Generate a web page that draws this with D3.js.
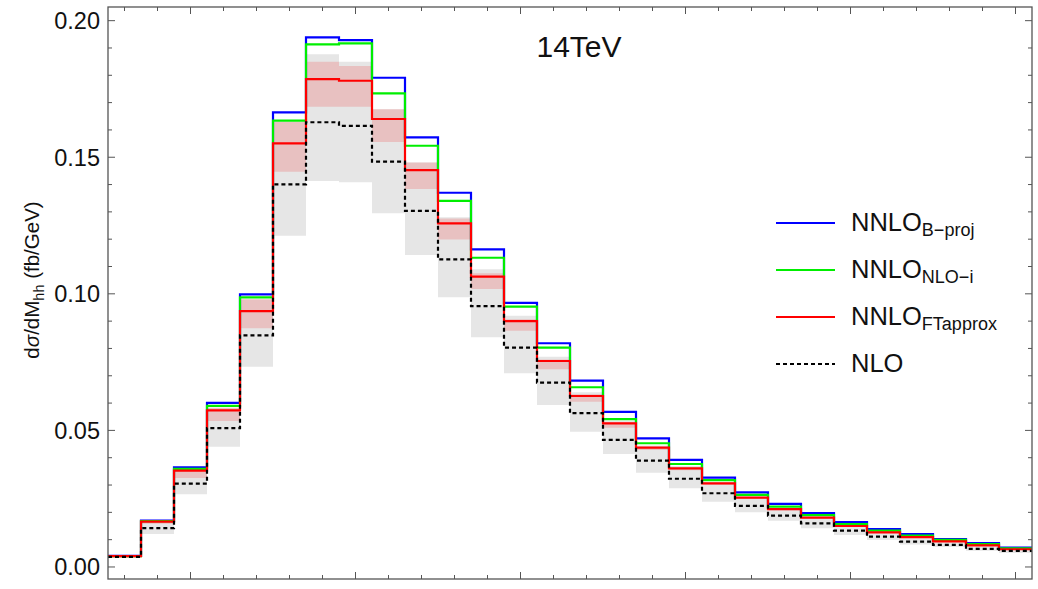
<!DOCTYPE html>
<html>
<head>
<meta charset="utf-8">
<script src="https://cdn.jsdelivr.net/npm/d3@7"></script>
<style>
  body { margin: 0; background: #fff; }
  text { font-family: "Liberation Sans", Arial, sans-serif; }
</style>
</head>
<body>
<div id="chart"></div>
<script>
// bin index (28 bins of M_hh), ticks sit at bin centres
var bins = d3.range(28);

// NNLO_B-proj
var nnloBproj = [0.0041, 0.0170, 0.0365, 0.0601, 0.0998, 0.1664, 0.1939, 0.1929, 0.1791, 0.1573,
  0.1370, 0.1163, 0.0967, 0.0819, 0.0682, 0.0568, 0.0471, 0.0392, 0.0327, 0.0273,
  0.0231, 0.0197, 0.0164, 0.0139, 0.0120, 0.0102, 0.0087, 0.0071];
// NNLO_NLO-i
var nnloNLOi = [0.0040, 0.0168, 0.0359, 0.0590, 0.0987, 0.1634, 0.1913, 0.1917, 0.1734, 0.1542,
  0.1340, 0.1132, 0.0953, 0.0803, 0.0658, 0.0541, 0.0453, 0.0377, 0.0318, 0.0264,
  0.0221, 0.0190, 0.0157, 0.0133, 0.0115, 0.0099, 0.0084, 0.0068];
// NNLO_FTapprox
var nnloFT = [0.0040, 0.0166, 0.0353, 0.0573, 0.0937, 0.1551, 0.1786, 0.1780, 0.1640, 0.1453,
  0.1258, 0.1063, 0.0900, 0.0754, 0.0626, 0.0526, 0.0437, 0.0361, 0.0306, 0.0254,
  0.0212, 0.0181, 0.0150, 0.0127, 0.0109, 0.0094, 0.0079, 0.0065];
// NLO
var nlo = [0.0037, 0.0142, 0.0305, 0.0508, 0.0848, 0.1401, 0.1628, 0.1615, 0.1484, 0.1304,
  0.1126, 0.0955, 0.0803, 0.0675, 0.0563, 0.0465, 0.0389, 0.0323, 0.0270, 0.0224,
  0.0188, 0.0160, 0.0133, 0.0111, 0.0093, 0.0081, 0.0066, 0.0059];

// NNLO_FTapprox scale band
var ftLow = [0.0038, 0.0158, 0.0326, 0.0534, 0.0874, 0.1447, 0.1685, 0.1685, 0.1556, 0.1384,
  0.1199, 0.1018, 0.0865, 0.0724, 0.0605, 0.0510, 0.0428, 0.0354, 0.0300, 0.0249,
  0.0208, 0.0177, 0.0147, 0.0124, 0.0106, 0.0092, 0.0077, 0.0063];
var ftHigh = [0.0042, 0.0170, 0.0358, 0.0583, 0.0980, 0.1630, 0.1850, 0.1834, 0.1676, 0.1481,
  0.1276, 0.1075, 0.0907, 0.0760, 0.0632, 0.0530, 0.0440, 0.0364, 0.0309, 0.0257,
  0.0215, 0.0184, 0.0152, 0.0129, 0.0111, 0.0096, 0.0081, 0.0067];
// NLO scale band
var nloLow = [0.0033, 0.0121, 0.0266, 0.0440, 0.0733, 0.1213, 0.1413, 0.1408, 0.1295, 0.1142,
  0.0987, 0.0841, 0.0709, 0.0593, 0.0495, 0.0414, 0.0345, 0.0288, 0.0239, 0.0200,
  0.0169, 0.0142, 0.0117, 0.0099, 0.0082, 0.0073, 0.0059, 0.0051];
var nloHigh = [0.0042, 0.0168, 0.0350, 0.0580, 0.0970, 0.1600, 0.1877, 0.1850, 0.1665, 0.1480,
  0.1280, 0.1090, 0.0920, 0.0770, 0.0640, 0.0535, 0.0445, 0.0370, 0.0310, 0.0257,
  0.0215, 0.0182, 0.0152, 0.0126, 0.0106, 0.0092, 0.0076, 0.0066];

var yTickValues = [0, 0.05, 0.10, 0.15, 0.20];
var yTickLabels = ["0.00", "0.05", "0.10", "0.15", "0.20"];

var series = [
  { name: "NNLO", sub: "B\u2212proj", values: nnloBproj, color: "#0000ff", dash: null },
  { name: "NNLO", sub: "NLO\u2212i", values: nnloNLOi, color: "#00ee00", dash: null },
  { name: "NNLO", sub: "FTapprox", values: nnloFT, color: "#ff0000", dash: null },
  { name: "NLO", sub: "", values: nlo, color: "#000000", dash: "4,3" }
];

// sizes
var width = 1038, height = 589;
var margin = { top: 7, right: 6, bottom: 10, left: 108 };
var plotW = width - margin.left - margin.right;
var plotH = height - margin.top - margin.bottom;

var svg = d3.select("#chart")
  .append("svg")
  .attr("width", width)
  .attr("height", height);

var g = svg.append("g")
  .attr("transform", "translate(" + margin.left + "," + margin.top + ")");

var xScale = d3.scaleLinear()
  .domain([-0.5, bins.length - 0.5])
  .range([0, plotW]);

var yScale = d3.scaleLinear()
  .domain([-0.0044, 0.205])
  .range([plotH, 0]);

// step points for each bin: left edge and right edge
function stepPoints(vals) {
  var pts = [];
  bins.forEach(function (b, i) {
    pts.push({ x: b - 0.5, v: vals[i] });
    pts.push({ x: b + 0.5, v: vals[i] });
  });
  return pts;
}
function bandPoints(lo, hi) {
  var pts = [];
  bins.forEach(function (b, i) {
    pts.push({ x: b - 0.5, lo: lo[i], hi: hi[i] });
    pts.push({ x: b + 0.5, lo: lo[i], hi: hi[i] });
  });
  return pts;
}

var area = d3.area()
  .x(function (d) { return xScale(d.x); })
  .y0(function (d) { return yScale(d.lo); })
  .y1(function (d) { return yScale(d.hi); });

var line = d3.line()
  .x(function (d) { return xScale(d.x); })
  .y(function (d) { return yScale(d.v); });

// bands
g.append("path")
  .attr("d", area(bandPoints(nloLow, nloHigh)))
  .attr("fill", "#e6e6e6");
g.append("path")
  .attr("d", area(bandPoints(ftLow, ftHigh)))
  .attr("fill", "#e8c1c1");

// histogram lines
series.forEach(function (s) {
  g.append("path")
    .attr("d", line(stepPoints(s.values)))
    .attr("fill", "none")
    .attr("stroke", s.color)
    .attr("stroke-width", 2.2)
    .attr("stroke-dasharray", s.dash);
});

// frame
g.append("rect")
  .attr("width", plotW)
  .attr("height", plotH)
  .attr("fill", "none")
  .attr("stroke", "#555")
  .attr("stroke-width", 1.3);

// ticks (inside, on all four sides)
var tickColor = "#555";
var yMinor = d3.range(0, 0.2001, 0.01);
yMinor.forEach(function (v) {
  var major = Math.abs(v * 20 - Math.round(v * 20)) < 1e-6;
  var len = major ? 7 : 4;
  g.append("line").attr("x1", 0).attr("x2", len)
    .attr("y1", yScale(v)).attr("y2", yScale(v))
    .attr("stroke", tickColor).attr("stroke-width", 1);
  g.append("line").attr("x1", plotW).attr("x2", plotW - len)
    .attr("y1", yScale(v)).attr("y2", yScale(v))
    .attr("stroke", tickColor).attr("stroke-width", 1);
});
bins.forEach(function (b) {
  var major = (b - 2) % 5 === 0;
  var len = major ? 7 : 4;
  g.append("line").attr("x1", xScale(b)).attr("x2", xScale(b))
    .attr("y1", plotH).attr("y2", plotH - len)
    .attr("stroke", tickColor).attr("stroke-width", 1);
  g.append("line").attr("x1", xScale(b)).attr("x2", xScale(b))
    .attr("y1", 0).attr("y2", len)
    .attr("stroke", tickColor).attr("stroke-width", 1);
});

// y tick labels
yTickValues.forEach(function (v, i) {
  g.append("text")
    .attr("x", -8)
    .attr("y", yScale(v))
    .attr("dy", "0.36em")
    .attr("text-anchor", "end")
    .attr("font-size", 23.5)
    .attr("fill", "#111")
    .text(yTickLabels[i]);
});

// y axis label
var yl = svg.append("text")
  .attr("transform", "translate(39," + 280 + ") rotate(-90)")
  .attr("text-anchor", "middle")
  .attr("font-size", 20.5)
  .attr("fill", "#111");
yl.append("tspan").text("d");
yl.append("tspan").attr("font-style", "italic").text("\u03c3");
yl.append("tspan").text("/dM");
yl.append("tspan").attr("font-size", 14.5).attr("dy", 5).text("hh");
yl.append("tspan").attr("dy", -5).text(" (fb/GeV)");

// energy label
svg.append("text")
  .attr("x", 579)
  .attr("y", 57)
  .attr("text-anchor", "middle")
  .attr("font-size", 30)
  .attr("fill", "#111")
  .text("14TeV");

// legend
var legend = svg.append("g").attr("transform", "translate(776,223)");
series.forEach(function (s, i) {
  var row = legend.append("g").attr("transform", "translate(0," + (i * 47) + ")");
  row.append("line")
    .attr("x1", 0).attr("x2", 59)
    .attr("stroke", s.color)
    .attr("stroke-width", 2.2)
    .attr("stroke-dasharray", s.dash);
  var t = row.append("text")
    .attr("x", 75)
    .attr("y", 8)
    .attr("font-size", 25.5)
    .attr("fill", "#111");
  t.append("tspan").text(s.name);
  if (s.sub) {
    t.append("tspan").attr("font-size", 18).attr("dy", 5).text(s.sub);
  }
});
</script>
</body>
</html>
